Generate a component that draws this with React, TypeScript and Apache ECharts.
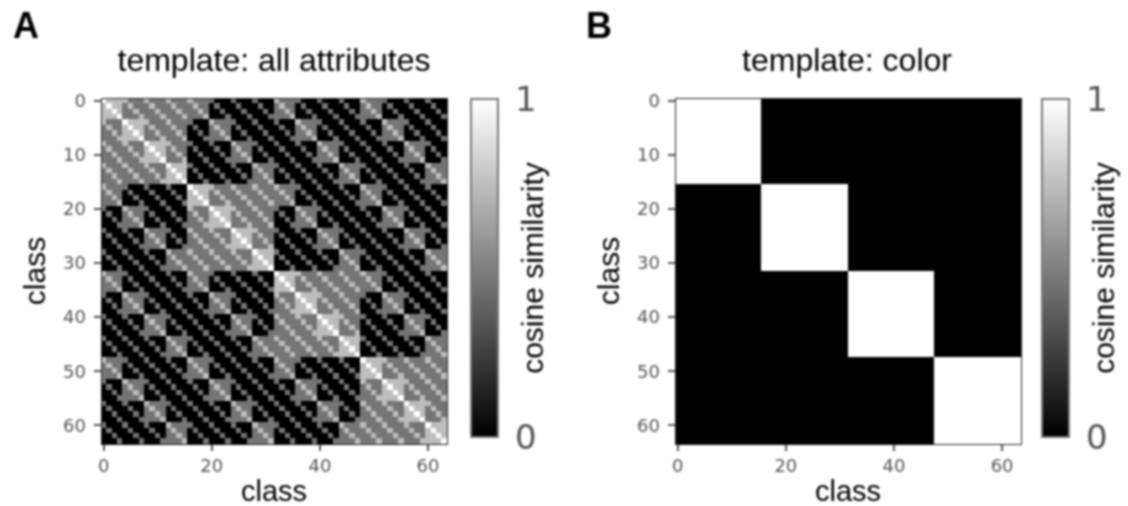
import React, { useEffect, useRef } from "react";
import * as echarts from "echarts";

// number of shared attributes between two classes (digit = index into similarityLevels)
const allAttributeRows = [
  "3222211121112111 2111100010001000 2111100010001000 2111100010001000",
  "2322121112111211 1211010001000100 1211010001000100 1211010001000100",
  "2232112111211121 1121001000100010 1121001000100010 1121001000100010",
  "2223111211121112 1112000100010001 1112000100010001 1112000100010001",
  "2111322221112111 1000211110001000 1000211110001000 1000211110001000",
  "1211232212111211 0100121101000100 0100121101000100 0100121101000100",
  "1121223211211121 0010112100100010 0010112100100010 0010112100100010",
  "1112222311121112 0001111200010001 0001111200010001 0001111200010001",
  "2111211132222111 1000100021111000 1000100021111000 1000100021111000",
  "1211121123221211 0100010012110100 0100010012110100 0100010012110100",
  "1121112122321121 0010001011210010 0010001011210010 0010001011210010",
  "1112111222231112 0001000111120001 0001000111120001 0001000111120001",
  "2111211121113222 1000100010002111 1000100010002111 1000100010002111",
  "1211121112112322 0100010001001211 0100010001001211 0100010001001211",
  "1121112111212232 0010001000101121 0010001000101121 0010001000101121",
  "1112111211122223 0001000100011112 0001000100011112 0001000100011112",
  "2111100010001000 3222211121112111 2111100010001000 2111100010001000",
  "1211010001000100 2322121112111211 1211010001000100 1211010001000100",
  "1121001000100010 2232112111211121 1121001000100010 1121001000100010",
  "1112000100010001 2223111211121112 1112000100010001 1112000100010001",
  "1000211110001000 2111322221112111 1000211110001000 1000211110001000",
  "0100121101000100 1211232212111211 0100121101000100 0100121101000100",
  "0010112100100010 1121223211211121 0010112100100010 0010112100100010",
  "0001111200010001 1112222311121112 0001111200010001 0001111200010001",
  "1000100021111000 2111211132222111 1000100021111000 1000100021111000",
  "0100010012110100 1211121123221211 0100010012110100 0100010012110100",
  "0010001011210010 1121112122321121 0010001011210010 0010001011210010",
  "0001000111120001 1112111222231112 0001000111120001 0001000111120001",
  "1000100010002111 2111211121113222 1000100010002111 1000100010002111",
  "0100010001001211 1211121112112322 0100010001001211 0100010001001211",
  "0010001000101121 1121112111212232 0010001000101121 0010001000101121",
  "0001000100011112 1112111211122223 0001000100011112 0001000100011112",
  "2111100010001000 2111100010001000 3222211121112111 2111100010001000",
  "1211010001000100 1211010001000100 2322121112111211 1211010001000100",
  "1121001000100010 1121001000100010 2232112111211121 1121001000100010",
  "1112000100010001 1112000100010001 2223111211121112 1112000100010001",
  "1000211110001000 1000211110001000 2111322221112111 1000211110001000",
  "0100121101000100 0100121101000100 1211232212111211 0100121101000100",
  "0010112100100010 0010112100100010 1121223211211121 0010112100100010",
  "0001111200010001 0001111200010001 1112222311121112 0001111200010001",
  "1000100021111000 1000100021111000 2111211132222111 1000100021111000",
  "0100010012110100 0100010012110100 1211121123221211 0100010012110100",
  "0010001011210010 0010001011210010 1121112122321121 0010001011210010",
  "0001000111120001 0001000111120001 1112111222231112 0001000111120001",
  "1000100010002111 1000100010002111 2111211121113222 1000100010002111",
  "0100010001001211 0100010001001211 1211121112112322 0100010001001211",
  "0010001000101121 0010001000101121 1121112111212232 0010001000101121",
  "0001000100011112 0001000100011112 1112111211122223 0001000100011112",
  "2111100010001000 2111100010001000 2111100010001000 3222211121112111",
  "1211010001000100 1211010001000100 1211010001000100 2322121112111211",
  "1121001000100010 1121001000100010 1121001000100010 2232112111211121",
  "1112000100010001 1112000100010001 1112000100010001 2223111211121112",
  "1000211110001000 1000211110001000 1000211110001000 2111322221112111",
  "0100121101000100 0100121101000100 0100121101000100 1211232212111211",
  "0010112100100010 0010112100100010 0010112100100010 1121223211211121",
  "0001111200010001 0001111200010001 0001111200010001 1112222311121112",
  "1000100021111000 1000100021111000 1000100021111000 2111211132222111",
  "0100010012110100 0100010012110100 0100010012110100 1211121123221211",
  "0010001011210010 0010001011210010 0010001011210010 1121112122321121",
  "0001000111120001 0001000111120001 0001000111120001 1112111222231112",
  "1000100010002111 1000100010002111 1000100010002111 2111211121113222",
  "0100010001001211 0100010001001211 0100010001001211 1211121112112322",
  "0010001000101121 0010001000101121 0010001000101121 1121112111212232",
  "0001000100011112 0001000100011112 0001000100011112 1112111211122223",
];

const B0 = "1111111111111111 0000000000000000 0000000000000000 0000000000000000";
const B1 = "0000000000000000 1111111111111111 0000000000000000 0000000000000000";
const B2 = "0000000000000000 0000000000000000 1111111111111111 0000000000000000";
const B3 = "0000000000000000 0000000000000000 0000000000000000 1111111111111111";
const colorRows = [
  B0, B0, B0, B0, B0, B0, B0, B0, B0, B0, B0, B0, B0, B0, B0, B0,
  B1, B1, B1, B1, B1, B1, B1, B1, B1, B1, B1, B1, B1, B1, B1, B1,
  B2, B2, B2, B2, B2, B2, B2, B2, B2, B2, B2, B2, B2, B2, B2, B2,
  B3, B3, B3, B3, B3, B3, B3, B3, B3, B3, B3, B3, B3, B3, B3, B3,
];

const attributeLevels = [0, 0.46, 0.74, 1];
const colorLevels = [0, 1];
const titles = ["template: all attributes", "template: color"];
const panelLetters = ["A", "B"];
const axisLabel = "class";
const colorbarLabel = "cosine similarity";
const classes = Array.from({ length: 64 }, (_, i) => String(i));

const toCells = (rows: string[], levels: number[]) => {
  const cells: number[][] = [];
  rows.forEach((row, y) => {
    row.replace(/ /g, "").split("").forEach((d, x) => cells.push([x, y, levels[+d]]));
  });
  return cells;
};

const TEXT = "Liberation Sans";
const TICK = "DejaVu Sans";
const GRAY = "#555";

const PLOT = [{ left: 101, top: 98, size: 346 }, { left: 675, top: 98, size: 346 }];
const BAR = [{ left: 471, top: 99, width: 27, height: 338 }, { left: 1042, top: 99, width: 27, height: 338 }];

export default function App() {
  const ref = useRef<HTMLDivElement>(null);
  useEffect(() => {
    const chart = echarts.init(ref.current!, undefined, { renderer: "svg" });
    const datasets = [toCells(allAttributeRows, attributeLevels), toCells(colorRows, colorLevels)];
    const grids: any[] = [];
    const xAxes: any[] = [];
    const yAxes: any[] = [];
    const series: any[] = [];
    const visualMaps: any[] = [];
    const title: any[] = [];
    [0, 1].forEach((p) => {
      const g = PLOT[p];
      const b = BAR[p];
      grids.push({ left: g.left, top: g.top, width: g.size, height: g.size, outerBoundsMode: "none", show: true, borderColor: "#222", borderWidth: 1, backgroundColor: "transparent", z: 5 });
      grids.push({ left: b.left, top: b.top, width: b.width, height: b.height, outerBoundsMode: "none", show: true, borderColor: "#777", borderWidth: 2, backgroundColor: "transparent", z: 6 });
      xAxes.push({
        type: "category", gridIndex: p * 2, data: classes,
        axisLine: { show: true, lineStyle: { color: "#222", width: 1 } },
        axisTick: { show: true, alignWithLabel: true, interval: 19, length: 7, lineStyle: { color: GRAY, width: 1.5 } },
        axisLabel: { interval: 19, color: GRAY, fontFamily: TICK, fontSize: 18, margin: 12 },
        name: axisLabel, nameLocation: "middle", nameGap: 32, nameMoveOverlap: false,
        nameTextStyle: { fontFamily: TEXT, fontSize: 29, color: "#000" },
        splitLine: { show: false },
      });
      yAxes.push({
        type: "category", gridIndex: p * 2, data: classes, inverse: true,
        axisLine: { show: true, lineStyle: { color: "#222", width: 1 } },
        axisTick: { show: true, alignWithLabel: true, interval: 9, length: 7, lineStyle: { color: GRAY, width: 1.5 } },
        axisLabel: { interval: 9, color: GRAY, fontFamily: TICK, fontSize: 18, margin: 15 },
        name: axisLabel, nameLocation: "middle", nameGap: 52, nameRotate: 90,
        nameTextStyle: { fontFamily: TEXT, fontSize: 30, color: "#000" },
        splitLine: { show: false },
      });
      xAxes.push({ type: "value", gridIndex: p * 2 + 1, show: false });
      yAxes.push({
        type: "value", gridIndex: p * 2 + 1, position: "right", min: 0, max: 1, interval: 1,
        axisLine: { show: true, lineStyle: { color: "#777", width: 1 } },
        axisTick: { show: true, length: 10, lineStyle: { color: GRAY, width: 1.5 } },
        axisLabel: { color: GRAY, fontFamily: TICK, fontSize: 34, margin: 17 },
        splitLine: { show: false },
        name: colorbarLabel, nameLocation: "middle", nameGap: 19, nameRotate: 90, nameMoveOverlap: false,
        nameTextStyle: { fontFamily: TEXT, fontSize: 30, color: "#000" },
      });
      series.push({
        type: "heatmap", xAxisIndex: p * 2, yAxisIndex: p * 2, data: datasets[p],
        itemStyle: { borderWidth: 0 }, emphasis: { disabled: true },
      });
      visualMaps.push({
        type: "continuous", min: 0, max: 1, seriesIndex: p, dimension: 2,
        left: b.left, top: b.top, itemWidth: b.width, itemHeight: b.height,
        padding: 0, text: ["", ""], showLabel: false, calculable: false, realtime: false,
        inRange: { color: ["#000000", "#ffffff"] }, hoverLink: false,
      });
      title.push({
        text: titles[p], left: p === 0 ? 274 : 847, top: 44, textAlign: "center", padding: 0,
        textStyle: { fontFamily: TEXT, fontSize: 32, fontWeight: "normal", color: "#000" },
      });
      title.push({
        text: panelLetters[p], left: p === 0 ? 13 : 586, top: 7, padding: 0,
        textStyle: { fontFamily: TEXT, fontSize: 36, fontWeight: "bold", color: "#000" },
      });
    });
    chart.setOption({
      animation: false, backgroundColor: "#fff", title, grid: grids, xAxis: xAxes, yAxis: yAxes, series, visualMap: visualMaps, tooltip: { show: false },
    });
    return () => chart.dispose();
  }, []);
  return <div ref={ref} style={{ position: "absolute", left: 0, top: 0, width: 1128, height: 506, shapeRendering: "crispEdges", filter: "blur(0.85px)" } as any} />;
}
